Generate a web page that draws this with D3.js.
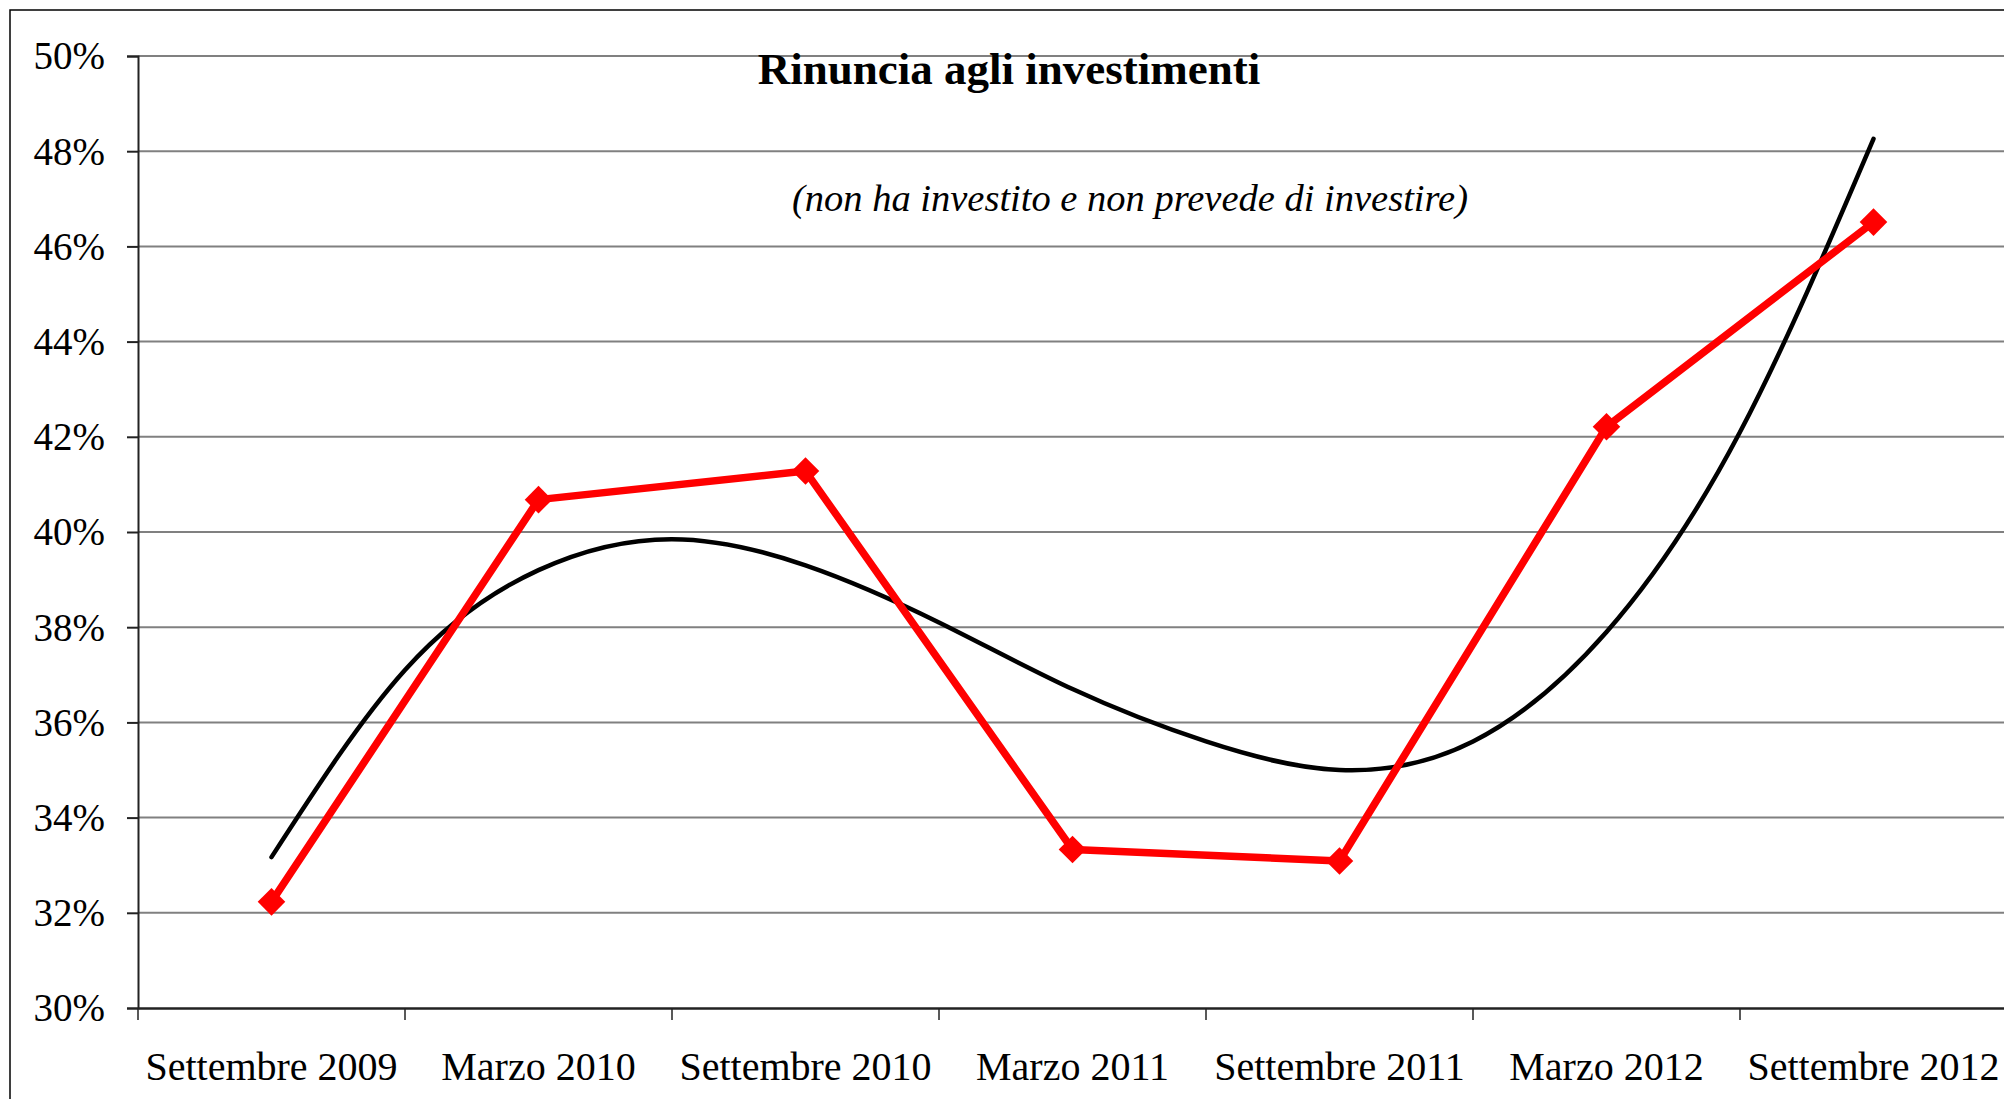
<!DOCTYPE html>
<html>
<head>
<meta charset="utf-8">
<script src="https://cdn.jsdelivr.net/npm/d3@7"></script>
<style>
  body { margin: 0; background: #fff; }
  svg { display: block; }
  svg text { font-family: "Liberation Serif", "Times New Roman", serif; }
</style>
</head>
<body>
<svg id="svg-chart"></svg>
<script>
const width = 2004;
const height = 1099;
const margin = { left: 138, right: -3, top: 56, bottom: 91 };

// data
const periods = ["Settembre 2009", "Marzo 2010", "Settembre 2010", "Marzo 2011",
  "Settembre 2011", "Marzo 2012", "Settembre 2012"];
const rinuncia = [32.23, 40.68, 41.28, 33.33, 33.09, 42.21, 46.51];
// trend line, read at every half period (1 = first period)
const trendPos = [1, 1.5, 2, 2.5, 3, 3.5, 4, 4.5, 5, 5.5, 6, 6.5, 7];
const trendVal = [33.17, 37.1, 39.2, 39.85, 39.3, 38.1, 36.7, 35.6, 35.0, 35.6, 37.9, 42.1, 48.26];
const yTicks = [30, 32, 34, 36, 38, 40, 42, 44, 46, 48, 50];

const serif = "'Liberation Serif', 'Times New Roman', serif";

const svg = d3.select("#svg-chart").attr("width", width).attr("height", height);

const plotWidth = width - margin.left - margin.right;
const plotHeight = height - margin.top - margin.bottom;

const xScale = d3.scaleBand().domain(periods).range([0, plotWidth]);
const xPos = d3.scaleLinear().domain([1, 2])
  .range([xScale.bandwidth() / 2, xScale.bandwidth() * 1.5]);
const yScale = d3.scaleLinear().domain([30, 50]).range([plotHeight, 0]);

// chart frame
svg.append("rect")
  .attr("x", 10).attr("y", 10)
  .attr("width", width + 20).attr("height", height + 20)
  .attr("fill", "none").attr("stroke", "#000").attr("stroke-width", 1.5);

const g = svg.append("g")
  .attr("transform", "translate(" + margin.left + "," + margin.top + ")");

// gridlines
g.selectAll(".grid")
  .data(yTicks.filter(d => d > 30))
  .join("line")
  .attr("class", "grid")
  .attr("x1", 0).attr("x2", plotWidth)
  .attr("y1", d => yScale(d)).attr("y2", d => yScale(d))
  .attr("stroke", "#808080").attr("stroke-width", 2);

// left axis
const axisLeft = d3.axisLeft(yScale).tickValues(yTicks)
  .tickSize(11).tickPadding(22).tickFormat(d => d + "%");
const ya = g.append("g").call(axisLeft).attr("font-family", null).attr("font-size", null);
ya.select(".domain").attr("stroke", "#222").attr("stroke-width", 2);
ya.selectAll(".tick line").attr("stroke", "#222").attr("stroke-width", 2);
ya.selectAll("text").style("font-family", serif).style("font-size", "39px")
  .attr("fill", "#000").attr("dy", "0.33em");

// bottom axis
const axisBottom = d3.axisBottom(xScale).tickSize(0).tickPadding(0);
const xa = g.append("g").attr("transform", "translate(0," + plotHeight + ")").call(axisBottom)
  .attr("font-family", null).attr("font-size", null);
xa.select(".domain").attr("stroke", "#222").attr("stroke-width", 2.5);
xa.selectAll("text").style("font-family", serif).style("font-size", "40px")
  .attr("fill", "#000").attr("y", 72).attr("dy", 0);
xa.selectAll(".edge")
  .data(periods)
  .join("line")
  .attr("class", "edge")
  .attr("x1", d => xScale(d)).attr("x2", d => xScale(d))
  .attr("y1", 0).attr("y2", 12)
  .attr("stroke", "#222").attr("stroke-width", 1.5);

// trend line
const trend = d3.line()
  .x((d, i) => xPos(trendPos[i]))
  .y(d => yScale(d))
  .curve(d3.curveNatural);
g.append("path")
  .attr("d", trend(trendVal))
  .attr("fill", "none").attr("stroke", "#000").attr("stroke-width", 4.5)
  .attr("stroke-linecap", "round");

// series line
const line = d3.line()
  .x((d, i) => xScale(periods[i]) + xScale.bandwidth() / 2)
  .y(d => yScale(d));
g.append("path")
  .attr("d", line(rinuncia))
  .attr("fill", "none").attr("stroke", "#ff0000").attr("stroke-width", 7.5)
  .attr("stroke-linejoin", "round");

const diamond = d3.symbol().type(d3.symbolSquare).size(380);
g.selectAll(".marker")
  .data(rinuncia)
  .join("path")
  .attr("class", "marker")
  .attr("d", diamond)
  .attr("transform", (d, i) => "translate(" + (xScale(periods[i]) + xScale.bandwidth() / 2) +
    "," + yScale(d) + ") rotate(45)")
  .attr("fill", "#ff0000");

// titles
svg.append("text")
  .attr("x", 1009).attr("y", 84)
  .attr("text-anchor", "middle")
  .style("font-family", serif)
  .attr("font-size", 45).attr("font-weight", "bold")
  .text("Rinuncia agli investimenti");

svg.append("text")
  .attr("x", 1130).attr("y", 211)
  .attr("text-anchor", "middle")
  .style("font-family", serif)
  .attr("font-size", 38.5).attr("font-style", "italic")
  .text("(non ha investito e non prevede di investire)");
</script>
</body>
</html>
